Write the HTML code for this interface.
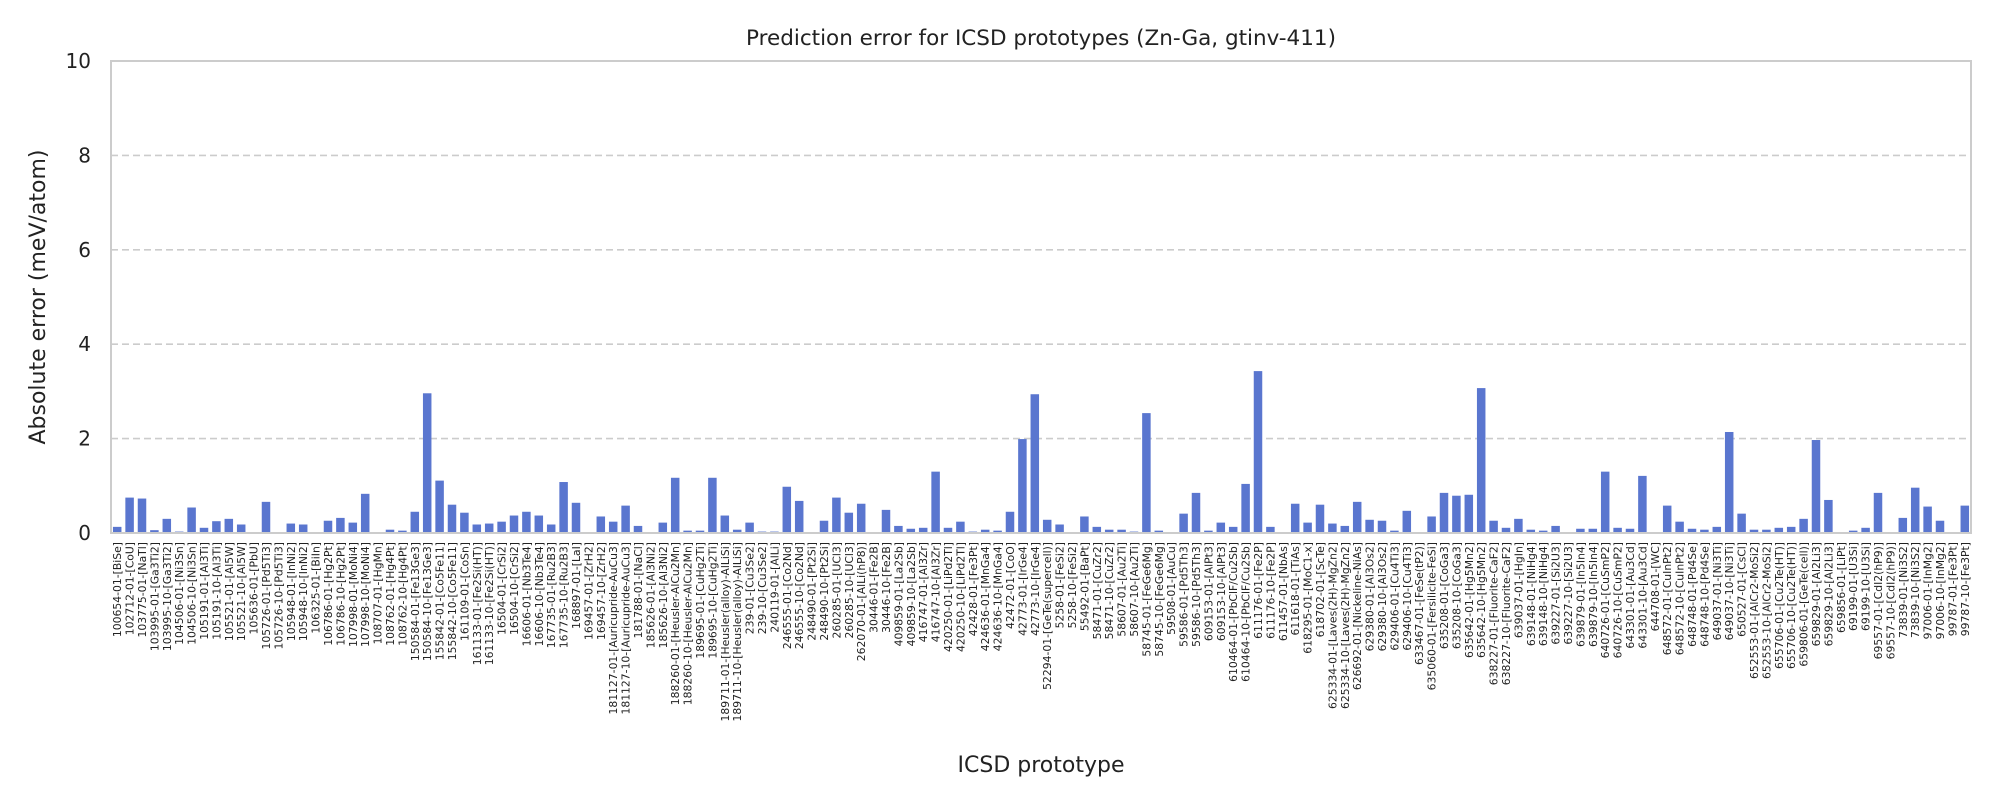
<!DOCTYPE html>
<html><head><meta charset="utf-8"><style>
html,body{margin:0;padding:0;background:#fff;}
svg{display:block;font-family:"DejaVu Sans","Liberation Sans",sans-serif;}
</style></head><body>
<svg id="chart" width="2000" height="800" viewBox="0 0 2000 800" xmlns="http://www.w3.org/2000/svg">
<text x="1041" y="45" font-size="21.5" text-anchor="middle" fill="#222">Prediction error for ICSD prototypes (Zn-Ga, gtinv-411)</text>
<text x="0" y="0" font-size="22" text-anchor="middle" fill="#222" transform="translate(45,297) rotate(-90)">Absolute error (meV/atom)</text>
<text x="1041" y="772" font-size="22" text-anchor="middle" fill="#222">ICSD prototype</text>
<g id="grid"></g><g id="bars"></g><g id="yticks"></g><g id="xticks"></g>
<rect x="111" y="61" width="1860" height="472" fill="none" stroke="#cccccc" stroke-width="2"/>
</svg>
<script>
const categories = ["100654-01-[BiSe]","102712-01-[CoU]","103775-01-[NaTl]","103995-01-[Ga3Ti2]","103995-10-[Ga3Ti2]","104506-01-[Ni3Sn]","104506-10-[Ni3Sn]","105191-01-[Al3Ti]","105191-10-[Al3Ti]","105521-01-[Al5W]","105521-10-[Al5W]","105636-01-[PbU]","105726-01-[Pd5Ti3]","105726-10-[Pd5Ti3]","105948-01-[InNi2]","105948-10-[InNi2]","106325-01-[BiIn]","106786-01-[Hg2Pt]","106786-10-[Hg2Pt]","107998-01-[MoNi4]","107998-10-[MoNi4]","108707-01-[HgMn]","108762-01-[Hg4Pt]","108762-10-[Hg4Pt]","150584-01-[Fe13Ge3]","150584-10-[Fe13Ge3]","155842-01-[Co5Fe11]","155842-10-[Co5Fe11]","161109-01-[CoSn]","161133-01-[Fe2Si(HT)]","161133-10-[Fe2Si(HT)]","16504-01-[CrSi2]","16504-10-[CrSi2]","16606-01-[Nb3Te4]","16606-10-[Nb3Te4]","167735-01-[Ru2B3]","167735-10-[Ru2B3]","168897-01-[LaI]","169457-01-[ZrH2]","169457-10-[ZrH2]","181127-01-[Auricupride-AuCu3]","181127-10-[Auricupride-AuCu3]","181788-01-[NaCl]","185626-01-[Al3Ni2]","185626-10-[Al3Ni2]","188260-01-[Heusler-AlCu2Mn]","188260-10-[Heusler-AlCu2Mn]","189695-01-[CuHg2Ti]","189695-10-[CuHg2Ti]","189711-01-[Heusler(alloy)-AlLiSi]","189711-10-[Heusler(alloy)-AlLiSi]","239-01-[Cu3Se2]","239-10-[Cu3Se2]","240119-01-[AlLi]","246555-01-[Co2Nd]","246555-10-[Co2Nd]","248490-01-[Pt2Si]","248490-10-[Pt2Si]","260285-01-[UCl3]","260285-10-[UCl3]","262070-01-[AlLi(hP8)]","30446-01-[Fe2B]","30446-10-[Fe2B]","409859-01-[La2Sb]","409859-10-[La2Sb]","416747-01-[Al3Zr]","416747-10-[Al3Zr]","420250-01-[LiPd2Tl]","420250-10-[LiPd2Tl]","42428-01-[Fe3Pt]","424636-01-[MnGa4]","424636-10-[MnGa4]","42472-01-[CoO]","42773-01-[IrGe4]","42773-10-[IrGe4]","52294-01-[GeTe(supercell)]","5258-01-[FeSi2]","5258-10-[FeSi2]","55492-01-[BaPt]","58471-01-[CuZr2]","58471-10-[CuZr2]","58607-01-[Au2Ti]","58607-10-[Au2Ti]","58745-01-[FeGe6Mg]","58745-10-[FeGe6Mg]","59508-01-[AuCu]","59586-01-[Pd5Th3]","59586-10-[Pd5Th3]","609153-01-[AlPt3]","609153-10-[AlPt3]","610464-01-[PbClF/Cu2Sb]","610464-10-[PbClF/Cu2Sb]","611176-01-[Fe2P]","611176-10-[Fe2P]","611457-01-[NbAs]","611618-01-[TiAs]","618295-01-[MoC1-x]","618702-01-[ScTe]","625334-01-[Laves(2H)-MgZn2]","625334-10-[Laves(2H)-MgZn2]","626692-01-[Nickeline-NiAs]","629380-01-[Al3Os2]","629380-10-[Al3Os2]","629406-01-[Cu4Ti3]","629406-10-[Cu4Ti3]","633467-01-[FeSe(tP2)]","635060-01-[Fersilicite-FeSi]","635208-01-[CoGa3]","635208-10-[CoGa3]","635642-01-[Hg5Mn2]","635642-10-[Hg5Mn2]","638227-01-[Fluorite-CaF2]","638227-10-[Fluorite-CaF2]","639037-01-[HgIn]","639148-01-[NiHg4]","639148-10-[NiHg4]","639227-01-[Si2U3]","639227-10-[Si2U3]","639879-01-[In5In4]","639879-10-[In5In4]","640726-01-[CuSmP2]","640726-10-[CuSmP2]","643301-01-[Au3Cd]","643301-10-[Au3Cd]","644708-01-[WC]","648572-01-[CuInPt2]","648572-10-[CuInPt2]","648748-01-[Pd4Se]","648748-10-[Pd4Se]","649037-01-[Ni3Ti]","649037-10-[Ni3Ti]","650527-01-[CsCl]","652553-01-[AlCr2-MoSi2]","652553-10-[AlCr2-MoSi2]","655706-01-[Cu2Te(HT)]","655706-10-[Cu2Te(HT)]","659806-01-[GeTe(cell)]","659829-01-[Al2Li3]","659829-10-[Al2Li3]","659856-01-[LiPt]","69199-01-[U3Si]","69199-10-[U3Si]","69557-01-[CdI2(hP9)]","69557-10-[CdI2(hP9)]","73839-01-[Ni3S2]","73839-10-[Ni3S2]","97006-01-[InMg2]","97006-10-[InMg2]","99787-01-[Fe3Pt]","99787-10-[Fe3Pt]"];
const errors = [0.13,0.75,0.73,0.06,0.30,0.03,0.54,0.11,0.25,0.30,0.18,0,0.66,0,0.20,0.18,0,0.26,0.32,0.22,0.83,0,0.07,0.05,0.45,2.96,1.11,0.60,0.43,0.18,0.20,0.24,0.37,0.45,0.37,0.18,1.08,0.64,0,0.35,0.24,0.58,0.15,0,0.22,1.17,0.05,0.05,1.17,0.37,0.07,0.22,0.03,0.03,0.98,0.68,0,0.26,0.75,0.43,0.62,0,0.49,0.15,0.09,0.11,1.30,0.11,0.24,0.03,0.07,0.05,0.45,1.99,2.94,0.28,0.18,0,0.35,0.13,0.07,0.07,0.03,2.54,0.05,0,0.41,0.85,0.05,0.22,0.13,1.04,3.43,0.13,0,0.62,0.22,0.60,0.20,0.15,0.66,0.28,0.26,0.05,0.47,0,0.35,0.85,0.79,0.81,3.07,0.26,0.11,0.30,0.07,0.05,0.15,0,0.09,0.09,1.30,0.11,0.09,1.21,0,0.58,0.24,0.09,0.07,0.13,2.14,0.41,0.07,0.07,0.11,0.13,0.30,1.97,0.70,0.01,0.05,0.11,0.85,0,0.32,0.96,0.56,0.26,0,0.58];
const yTicks = [0,2,4,6,8,10];

const NS = "http://www.w3.org/2000/svg";
const X0 = 111, X1 = 1971, Y0 = 533, Y1 = 61, YMAX = 10;
const step = (X1 - X0) / categories.length;
const xPos = i => X0 + step * (i + 0.5);
const yPos = v => Y0 - (v / YMAX) * (Y0 - Y1);
function mk(tag, attrs, parent){const e=document.createElementNS(NS,tag);for(const k in attrs)e.setAttribute(k,attrs[k]);parent.appendChild(e);return e;}

const grid = document.getElementById('grid'), yt = document.getElementById('yticks');
yTicks.forEach(t => {
  const y = yPos(t);
  if (t > 0 && t < YMAX) {
    const l = mk('line',{x1:X0,x2:X1,y1:y,y2:y,stroke:'#cccccc','stroke-width':1.6,'stroke-dasharray':'7,4'},grid);
    
    
  }
  const tx = mk('text',{x:X0-20,y:y+7,'font-size':20,'text-anchor':'end',fill:'#222'},yt);
  tx.textContent = t;
  
  
});

const bars = document.getElementById('bars'), xt = document.getElementById('xticks');
const bw = 8.5;
categories.forEach((c,i) => {
  const v = errors[i];
  const y = yPos(v);
  const r = mk('rect',{x:xPos(i)-bw/2,y:y,width:bw,height:Math.max(0,Y0-y),fill:'#5a76cf'},bars);
  
  
  const t = mk('text',{x:0,y:0,'font-size':10.8,'text-anchor':'end',fill:'#222',transform:`translate(${xPos(i)+4},${Y0+9}) rotate(-90)`},xt);
  t.textContent = c;
  
  
});
</script>
</body></html>
